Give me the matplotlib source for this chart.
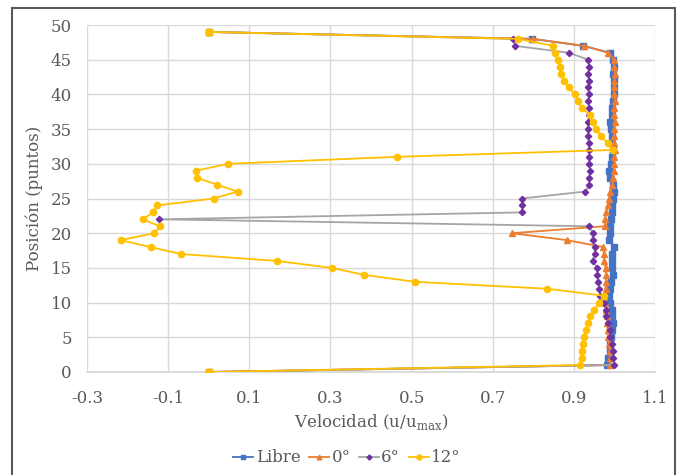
import numpy as np
import matplotlib

matplotlib.use("Agg")
import matplotlib.pyplot as plt
from matplotlib.patches import Rectangle

# posiciones (puntos) 0..49
pos = np.arange(50)

libre = [
    0.0, 0.981, 0.985, 0.989, 0.989, 0.991, 0.993, 0.997, 0.995, 0.993,
    0.989, 0.987, 0.989, 0.991, 0.997, 0.995, 0.993, 0.995, 0.999, 0.987,
    0.989, 0.989, 0.991, 0.993, 0.995, 0.997, 0.999, 0.997, 0.989, 0.987,
    0.991, 0.993, 0.997, 0.995, 0.993, 0.991, 0.989, 0.993, 0.995, 0.997,
    0.998, 1.000, 0.998, 0.997, 1.000, 0.997, 0.989, 0.923, 0.797, 0.0,
]
deg0 = [
    0.0, 0.990, 0.989, 0.988, 0.987, 0.984, 0.983, 0.982, 0.981, 0.979,
    0.977, 0.975, 0.978, 0.979, 0.979, 0.978, 0.975, 0.974, 0.973, 0.883,
    0.747, 0.976, 0.977, 0.979, 0.984, 0.987, 0.990, 0.995, 0.997, 0.999,
    1.000, 0.999, 1.001, 1.000, 0.999, 1.000, 1.001, 0.999, 1.000, 1.001,
    1.000, 0.999, 1.000, 1.001, 0.999, 0.998, 0.985, 0.925, 0.800, 0.0,
]
deg6 = [
    0.0, 0.999, 0.997, 0.997, 0.993, 0.988, 0.989, 0.985, 0.979, 0.979,
    0.974, 0.965, 0.963, 0.960, 0.958, 0.958, 0.946, 0.951, 0.952, 0.946,
    0.946, 0.938, -0.122, 0.773, 0.773, 0.771, 0.928, 0.938, 0.938, 0.940,
    0.938, 0.937, 0.938, 0.937, 0.935, 0.935, 0.936, 0.938, 0.937, 0.936,
    0.937, 0.936, 0.937, 0.936, 0.937, 0.936, 0.887, 0.755, 0.751, 0.0,
]
deg12 = [
    0.0, 0.915, 0.919, 0.919, 0.922, 0.926, 0.930, 0.935, 0.940, 0.950,
    0.963, 0.974, 0.833, 0.508, 0.383, 0.303, 0.169, -0.068, -0.143, -0.217,
    -0.134, -0.120, -0.163, -0.137, -0.127, 0.012, 0.071, 0.020, -0.030, -0.032,
    0.048, 0.463, 0.997, 0.983, 0.966, 0.955, 0.946, 0.940, 0.921, 0.911,
    0.902, 0.888, 0.876, 0.868, 0.866, 0.860, 0.853, 0.849, 0.763, 0.0,
]

x_ticks = [-0.3, -0.1, 0.1, 0.3, 0.5, 0.7, 0.9, 1.1]
y_ticks = [0, 5, 10, 15, 20, 25, 30, 35, 40, 45, 50]

TEXT = "#595959"
GRID = "#d9d9d9"


def main():
    plt.rcParams["font.family"] = ["DejaVu Serif"]
    plt.rcParams["mathtext.fontset"] = "custom"
    plt.rcParams["mathtext.rm"] = "DejaVu Serif"

    fig = plt.figure(figsize=(6.85, 4.75), dpi=100)
    ax = fig.add_axes([87 / 685, 1 - 372 / 475, 568 / 685, 347 / 475])

    ax.plot(libre, pos, color="#4472C4", lw=1.3, marker="s", ms=4.2,
            label="Libre", zorder=3)
    ax.plot(deg0, pos, color="#ED7D31", lw=1.3, marker="^", ms=4.2,
            label="0°", zorder=4)
    ax.plot(deg6, pos, color="#A5A5A5", lw=1.3, marker="D", ms=3.2,
            mfc="#7030A0", mec="#7030A0", label="6°", zorder=5)
    ax.plot(deg12, pos, color="#FFC000", lw=1.3, marker="o", ms=4.5,
            label="12°", zorder=6)
    # extremos de la serie 12° con marcador cuadrado
    ends = [0, len(pos) - 1]
    ax.plot([deg12[i] for i in ends], [pos[i] for i in ends], ls="none",
            marker="s", ms=5, color="#FFC000", zorder=7)

    ax.set_xlim(-0.3, 1.1)
    ax.set_ylim(0, 50)
    ax.set_xticks(x_ticks)
    ax.set_xticklabels([f"{t:.1f}" for t in x_ticks])
    ax.set_yticks(y_ticks)
    ax.grid(True, color=GRID, lw=1)
    ax.set_axisbelow(True)
    for s in ax.spines.values():
        s.set_visible(False)
    ax.spines["bottom"].set_visible(True)
    ax.spines["bottom"].set_color(GRID)
    ax.spines["bottom"].set_linewidth(1.3)
    ax.tick_params(length=0, labelsize=12, labelcolor=TEXT)
    ax.tick_params(axis="x", pad=13)
    ax.tick_params(axis="y", pad=11)

    ax.set_xlabel(r"Velocidad (u/u$_{\mathrm{max}}$)", fontsize=12, color=TEXT)
    ax.set_ylabel("Posición (puntos)", fontsize=12, color=TEXT)
    ax.xaxis.set_label_coords(0.5, -0.115)
    ax.yaxis.set_label_coords(-0.078, 0.5)

    fig.legend(loc="center", bbox_to_anchor=(347 / 685, 1 - 458 / 475), ncol=4,
               frameon=False, fontsize=12, labelcolor=TEXT, handlelength=1.2,
               handletextpad=0.15, columnspacing=0.5, markerscale=0.8)

    fig.patches.append(Rectangle((12 / 685, -0.1), 663 / 685, 1.1 - 8 / 475,
                                 transform=fig.transFigure, fill=False,
                                 edgecolor="#595959", lw=1.5))

    fig.savefig("out.png", dpi=100)


if __name__ == "__main__":
    main()
